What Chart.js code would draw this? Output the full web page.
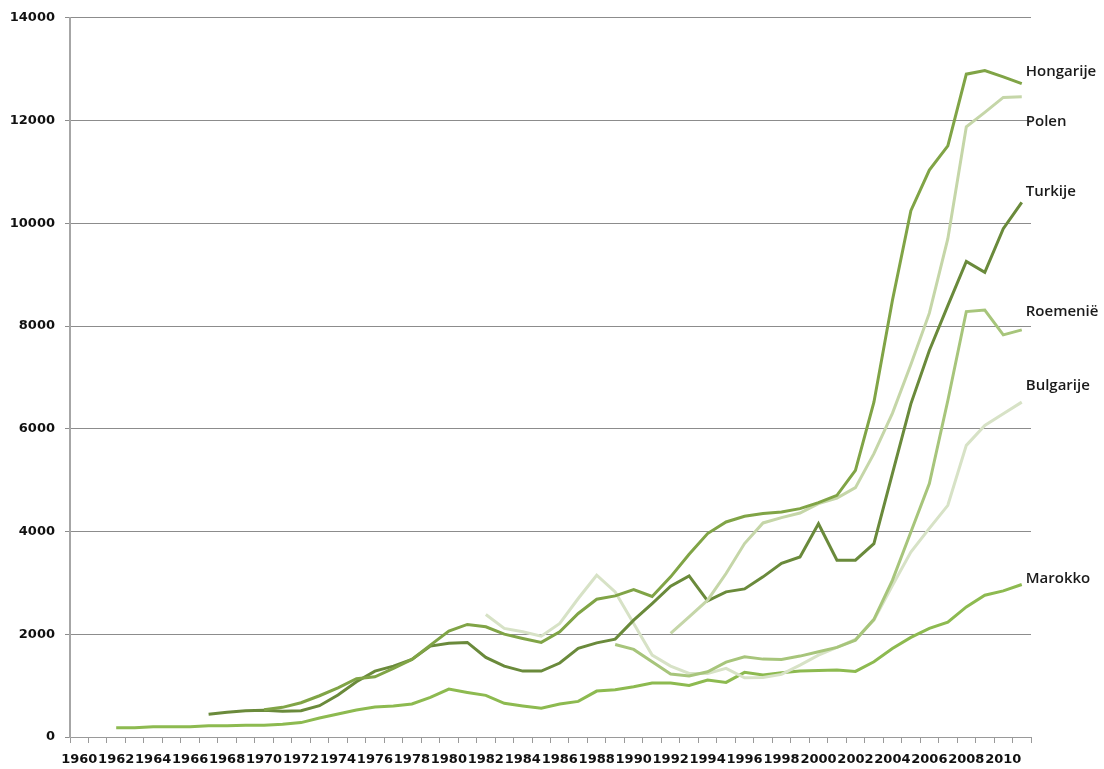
<!DOCTYPE html>
<html>
<head>
<meta charset="utf-8">
<script src="https://cdn.jsdelivr.net/npm/chart.js@4/dist/chart.umd.min.js"></script>
<style>
  html, body { margin: 0; padding: 0; background: #ffffff; }
  #wrap { width: 1104px; height: 769px; position: relative; }
</style>
</head>
<body>
<div id="wrap"><canvas id="c" width="1104" height="769"></canvas></div>
<script>
// Years 1960-2011
const years = [];
for (let y = 1960; y <= 2011; y++) years.push(String(y));

// Values per country, null where no figure is available
const hongarije = [null,null,null,null,null,null,null,null,null,null,
  530,577,667,803,958,1134,1172,1335,1510,1789,
  2061,2191,2145,2003,1918,1841,2047,2404,2682,2747,
  2871,2735,3117,3557,3960,4186,4297,4349,4380,4446,
  4562,4705,5191,6518,8496,10245,11035,11508,12903,12972,
  12850,12720];

const polen = [null,null,null,null,null,null,null,null,null,null,
  null,null,null,null,null,null,null,null,null,null,
  null,null,null,null,null,null,null,null,null,null,
  null,null,2016,2339,2663,3182,3765,4167,4271,4361,
  4543,4652,4854,5515,6300,7250,8250,9700,11880,12159,
  12450,12463];

const turkije = [null,null,null,null,null,null,null,441,480,512,
  519,500,512,609,816,1075,1283,1380,1510,1769,
  1827,1841,1549,1380,1283,1283,1440,1724,1833,1905,
  2274,2598,2935,3136,2650,2825,2883,3117,3380,3505,
  4150,3441,3441,3765,5126,6485,7523,8398,9259,9045,
  9895,10406];

const roemenie = [null,null,null,null,null,null,null,null,null,null,
  null,null,null,null,null,null,null,null,null,null,
  null,null,null,null,null,null,null,null,null,1802,
  1705,1464,1225,1186,1270,1458,1561,1516,1510,1575,
  1658,1744,1886,2290,3050,3990,4932,6551,8282,8310,
  7828,7925];

const bulgarije = [null,null,null,null,null,null,null,null,null,null,
  null,null,null,null,null,null,null,null,null,null,
  null,null,2385,2113,2048,1963,2210,2696,3149,2825,
  2210,1594,1380,1238,1238,1335,1153,1160,1219,1400,
  1594,1744,1899,2275,2950,3600,4060,4510,5677,6066,
  6293,6519];

const marokko = [null,null,180,180,200,200,200,220,220,230,
  230,250,280,370,447,525,583,603,642,770,
  933,868,810,655,603,558,642,693,894,920,
  978,1050,1050,1005,1108,1063,1258,1205,1250,1283,
  1296,1302,1277,1464,1724,1938,2113,2236,2533,2760,
  2844,2968];

const seriesNames = ['Hongarije','Polen','Turkije','Roemenië','Bulgarije','Marokko'];
const seriesColors = ['#80a446','#c5d6a8','#6a8a3b','#a7c57b','#d7e2c6','#8dba50'];
const seriesValues = [hongarije, polen, turkije, roemenie, bulgarije, marokko];

// Vertical nudge (px) of each end label relative to its line's last point
const labelNudge = [-12, 25, -11, -18, -16, -6];

const axisFont = { family: '"DejaVu Sans", sans-serif', size: 13, weight: 'bold' };

const endLabels = {
  id: 'endLabels',
  afterDatasetsDraw(chart) {
    const ctx = chart.ctx;
    ctx.save();
    ctx.font = '600 15px "Open Sans", sans-serif';
    ctx.fillStyle = '#1a1a1a';
    ctx.textAlign = 'left';
    ctx.textBaseline = 'middle';
    chart.data.datasets.forEach((ds, i) => {
      const meta = chart.getDatasetMeta(i);
      const pts = meta.data;
      const last = pts[pts.length - 1];
      ctx.fillText(ds.label, last.x + 4, last.y + labelNudge[i]);
    });
    ctx.restore();
  }
};

new Chart(document.getElementById('c'), {
  type: 'line',
  data: {
    labels: years,
    datasets: seriesNames.map((name, i) => ({
      label: name,
      data: seriesValues[i],
      borderColor: seriesColors[i],
      backgroundColor: seriesColors[i],
      borderWidth: 3,
      pointRadius: 0,
      pointHoverRadius: 0,
      tension: 0,
      spanGaps: false,
      fill: false
    }))
  },
  options: {
    responsive: false,
    animation: false,
    layout: { padding: { top: 17, right: 73, left: 0, bottom: 0 } },
    plugins: {
      legend: { display: false },
      tooltip: { enabled: false }
    },
    scales: {
      x: {
        type: 'category',
        offset: true,
        grid: {
          offset: true,
          drawOnChartArea: false,
          drawTicks: true,
          tickLength: 6,
          color: '#9a9a9a'
        },
        border: { display: true, color: '#9a9a9a', width: 1 },
        ticks: {
          autoSkip: false,
          maxRotation: 0,
          minRotation: 0,
          padding: 9,
          color: '#111111',
          font: axisFont,
          callback(value, index) {
            const y = Number(this.getLabelForValue(value));
            return (y % 2 === 0) ? String(y) : '';
          }
        },
        afterFit(scale) { scale.height = 32; }
      },
      y: {
        min: 0,
        max: 14000,
        ticks: {
          stepSize: 2000,
          padding: 10,
          color: '#111111',
          font: axisFont,
          callback(value) { return String(value); }
        },
        grid: {
          color: '#8c8c8c',
          lineWidth: 1,
          tickLength: 5
        },
        border: { display: true, color: '#a6a6a6', width: 2 },
        afterFit(scale) { scale.width = 70; }
      }
    }
  },
  plugins: [endLabels]
});
</script>
</body>
</html>
